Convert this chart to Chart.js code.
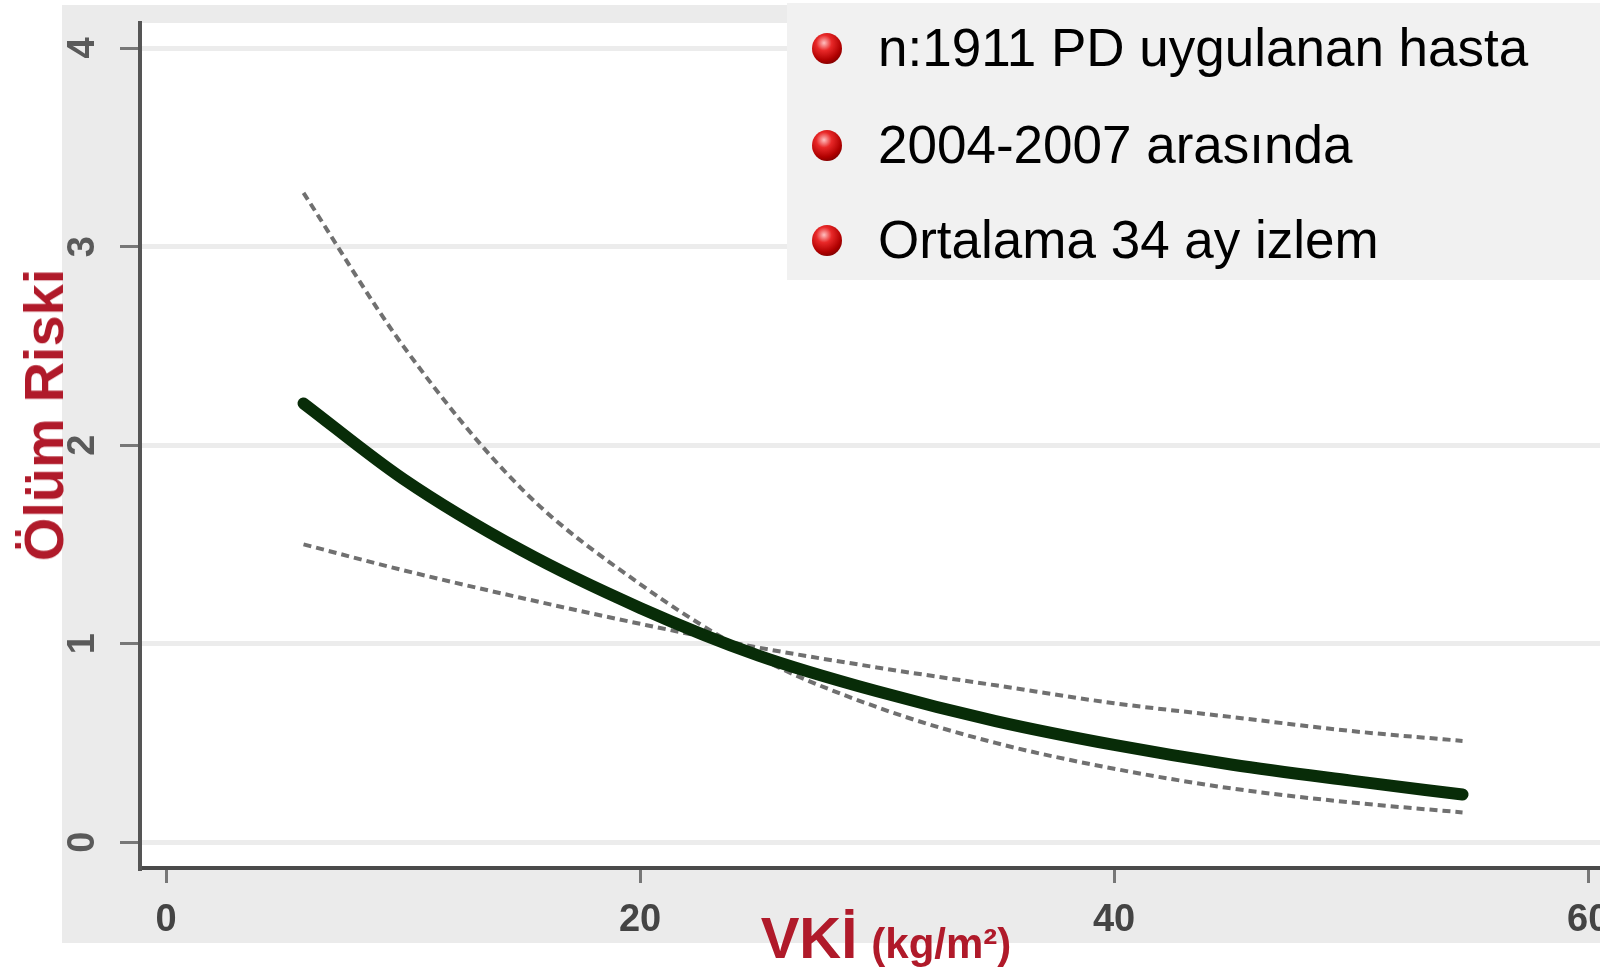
<!DOCTYPE html>
<html lang="tr">
<head>
<meta charset="utf-8">
<title>Ölüm Riski - VKİ</title>
<script src="https://cdn.jsdelivr.net/npm/chart.js@4.4.1/dist/chart.umd.min.js"></script>
<style>
  html, body { margin: 0; padding: 0; background: #fff; }
  #wrap { position: relative; width: 1600px; height: 978px; overflow: hidden;
          font-family: "Liberation Sans", Arial, sans-serif; }
  #chart { position: absolute; left: 0; top: 0; }

  .ytitle { position: absolute; left: 44px; top: 415px; transform: translate(-50%, -50%) rotate(-90deg);
            font-weight: bold; font-size: 56px; line-height: 1; color: #b01a2a; white-space: nowrap; }
  .xtitle { position: absolute; left: 886px; top: 938px; transform: translate(-50%, -50%);
            color: #b01a2a; font-weight: bold; white-space: nowrap; line-height: 1; }
  .xtitle .big { font-family: "Liberation Sans Narrow", "Liberation Sans", sans-serif; font-size: 58px; }
  .xtitle .small { font-size: 42px; margin-left: 14px; }

  .notes { position: absolute; left: 787px; top: 3px; width: 813px; height: 277px; background: #f1f1f1; }
  .notes .row { position: absolute; left: 0; height: 60px; line-height: 60px; font-size: 53px; color: #000; white-space: nowrap; }
  .notes .dot { position: absolute; left: 25px; top: 15px; width: 30px; height: 31px; border-radius: 50%;
                background: radial-gradient(circle at 40% 32%, #ffc0c0 0%, #e82828 28%, #b00000 62%, #4a0000 100%); }
  .notes .txt { position: absolute; left: 91px; top: 0; }
</style>
</head>
<body>
<div id="wrap">
  <canvas id="chart" width="1600" height="978"></canvas>
  <div class="ytitle">Ölüm Riski</div>
  <div class="xtitle"><span class="big">VKİ</span><span class="small">(kg/m²)</span></div>
  <div class="notes">
    <div class="row" style="top:15px"><span class="dot"></span><span class="txt">n:1911 PD uygulanan hasta</span></div>
    <div class="row" style="top:112px"><span class="dot"></span><span class="txt">2004-2007 arasında</span></div>
    <div class="row" style="top:207px"><span class="dot"></span><span class="txt">Ortalama 34 ay izlem</span></div>
  </div>
</div>

<script>
// ----- Données -----
const vki      = [5.8, 10, 15, 20, 25, 30, 35, 40, 45, 50, 54.7];
const risk     = [2.21, 1.83, 1.47, 1.18, 0.94, 0.76, 0.61, 0.49, 0.39, 0.31, 0.24];
const ciSteep  = [3.27, 2.50, 1.78, 1.30, 0.93, 0.68, 0.50, 0.37, 0.27, 0.20, 0.15];
const ciFlat   = [1.50, 1.37, 1.23, 1.10, 0.98, 0.88, 0.79, 0.70, 0.63, 0.56, 0.51];
const xTicks   = [0, 20, 40, 60];
const yTicks   = [0, 1, 2, 3, 4];

const toPoints = (ys) => vki.map((x, i) => ({ x, y: ys[i] }));

// fond gris du graphique + zone de tracé blanche
const background = {
  id: 'background',
  beforeDraw(chart) {
    const { ctx, chartArea: a } = chart;
    ctx.save();
    ctx.fillStyle = '#fff';
    ctx.fillRect(0, 0, chart.width, chart.height);
    ctx.fillStyle = '#ebebeb';
    ctx.fillRect(62, 5, chart.width - 62, 938);
    ctx.fillStyle = '#fff';
    ctx.fillRect(a.left, a.top, a.right - a.left, a.bottom - a.top);
    ctx.restore();
  }
};

// étiquettes de l'axe Y tournées (style Stata)
const yLabels = {
  id: 'yLabels',
  afterDraw(chart) {
    const { ctx } = chart;
    const sy = chart.scales.y;
    ctx.save();
    ctx.fillStyle = '#5a5a5a';
    ctx.font = 'bold 38px "Liberation Sans", Arial, sans-serif';
    ctx.textAlign = 'center';
    ctx.textBaseline = 'middle';
    yTicks.forEach(v => {
      ctx.save();
      ctx.translate(84, sy.getPixelForValue(v));
      ctx.rotate(-Math.PI / 2);
      ctx.fillText(String(v), 0, 0);
      ctx.restore();
    });
    ctx.restore();
  }
};

const dashed = {
  borderColor: '#707070',
  borderWidth: 4,
  borderDash: [8, 5],
  pointRadius: 0,
  fill: false,
  cubicInterpolationMode: 'monotone'
};

new Chart(document.getElementById('chart'), {
  type: 'line',
  data: {
    datasets: [
      {
        label: 'Ölüm riski',
        data: toPoints(risk),
        borderColor: '#082c08',
        borderWidth: 12,
        borderCapStyle: 'round',
        pointRadius: 0,
        fill: false,
        cubicInterpolationMode: 'monotone'
      },
      { label: 'GA 1', data: toPoints(ciSteep), ...dashed },
      { label: 'GA 2', data: toPoints(ciFlat), ...dashed }
    ]
  },
  options: {
    responsive: false,
    devicePixelRatio: 1,
    animation: false,
    layout: { padding: { top: 23, left: 0, right: 0, bottom: 0 } },
    plugins: { legend: { display: false }, tooltip: { enabled: false } },
    scales: {
      x: {
        type: 'linear',
        min: -1.1,
        max: 60.5,
        afterBuildTicks: s => { s.ticks = xTicks.map(v => ({ value: v })); },
        afterFit: s => { s.height = 110; s.paddingLeft = 0; s.paddingRight = 0; },
        border: { color: '#4a4a4a', width: 4 },
        grid: { drawOnChartArea: false, drawTicks: true, tickLength: 15, tickColor: '#777', tickWidth: 3 },
        ticks: {
          padding: 15,
          color: '#444',
          font: { family: '"Liberation Sans", Arial, sans-serif', size: 38, weight: 'bold' }
        }
      },
      y: {
        min: -0.13,
        max: 4.126,
        afterBuildTicks: s => { s.ticks = yTicks.map(v => ({ value: v })); },
        afterFit: s => { s.width = 140; s.paddingTop = 0; s.paddingBottom = 0; },
        border: { color: '#555', width: 4 },
        grid: { color: '#ececec', lineWidth: 5, drawTicks: true, tickLength: 20, tickColor: '#777', tickWidth: 3 },
        ticks: { display: false }
      }
    }
  },
  plugins: [background, yLabels]
});
</script>
</body>
</html>
